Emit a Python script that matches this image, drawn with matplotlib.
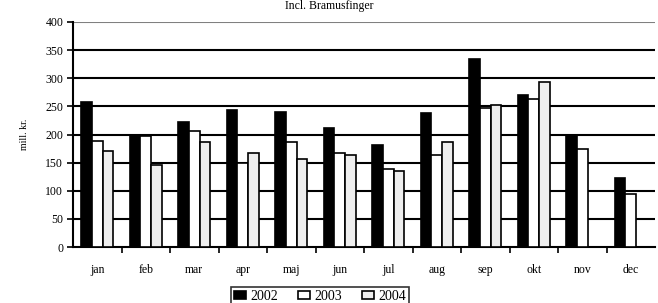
import matplotlib.pyplot as plt
import numpy as np

plt.rcParams['font.family'] = ['Liberation Serif', 'DejaVu Serif']

months = ['jan', 'feb', 'mar', 'apr', 'maj', 'jun', 'jul', 'aug', 'sep', 'okt', 'nov', 'dec']
v2002 = [258, 200, 222, 243, 240, 211, 182, 239, 335, 271, 199, 123]
v2003 = [189, 197, 207, 149, 186, 167, 139, 164, 247, 264, 175, 94]
v2004 = [170, 146, 186, 168, 156, 164, 136, 186, 253, 293, np.nan, np.nan]
years = ['2002', '2003', '2004']
colors = ['black', 'white', '#eeeeee']

fig = plt.figure(figsize=(6.58, 3.03), dpi=100)
ax = fig.add_axes([73/658, 56/303, 582/658, 225/303])

x = np.arange(len(months))
w = 0.217
for i, (vals, c, lab) in enumerate(zip([v2002, v2003, v2004], colors, years)):
    ax.bar(x + (i - 1) * w, vals, w, color=c, edgecolor='black', linewidth=1.2,
           label=lab, zorder=3)

ax.set_xlim(-0.5, 11.5)
ax.set_ylim(0, 400)
ax.set_yticks(range(0, 401, 50))
ax.set_yticklabels([str(v) for v in range(0, 401, 50)], fontsize=8.5)
ax.set_xticks(x)
ax.set_xticklabels(months, fontsize=8.5)
ax.set_xticks(np.arange(0.5, 11.5, 1), minor=True)
ax.tick_params(axis='x', which='major', length=0, pad=12)
ax.tick_params(axis='x', which='minor', length=4, width=1.2, direction='out')
ax.tick_params(axis='y', length=4, width=1.2, direction='out', pad=3)

for v in range(50, 400, 50):
    ax.axhline(v, color='black', linewidth=1.5, zorder=1)
ax.axhline(400, color='#808080', linewidth=1.5, zorder=1)

for s in ['top', 'right']:
    ax.spines[s].set_visible(False)
ax.spines['left'].set_linewidth(1.5)
ax.spines['bottom'].set_linewidth(1.5)

ax.set_ylabel('mill. kr.', fontsize=7, labelpad=12)

fig.text(0.5, 1 - 9/303, 'Incl. Bramusfinger', ha='center', va='baseline', fontsize=8.5)

leg = ax.legend(loc='upper center', bbox_to_anchor=((320 - 73)/582, -40/225),
                ncol=3, fontsize=10, frameon=True, fancybox=False, edgecolor='black',
                handlelength=0.9, handleheight=0.55, handletextpad=0.3, columnspacing=1.4,
                borderpad=0.2, borderaxespad=0)
leg.get_frame().set_linewidth(1.2)

fig.savefig('out.png', dpi=100)
